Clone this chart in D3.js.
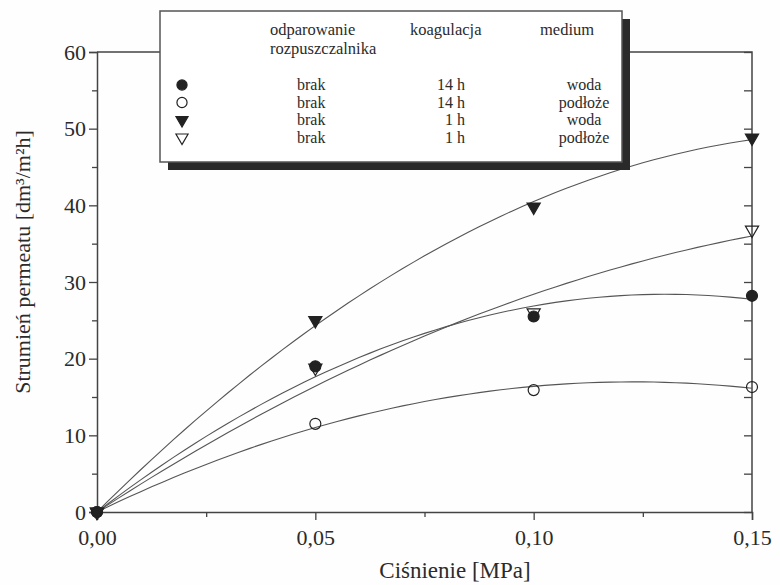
<!DOCTYPE html>
<html>
<head>
<meta charset="utf-8">
<script src="https://cdn.jsdelivr.net/npm/d3@7"></script>
<style>
  body { margin: 0; background: #fff; }
  svg { display: block; font-family: "Liberation Serif", "Times New Roman", serif; }
</style>
</head>
<body>
<svg id="chart" width="780" height="585"></svg>
<script>
// pressure [MPa]
const pressure = [0, 0.05, 0.10, 0.15];

// permeate flux [dm3/m2h]
const woda14 = [0, 19.0, 25.5, 28.2];
const podloze14 = [0, 11.5, 15.9, 16.3];
const woda1 = [0, 25.0, 39.8, 48.8];
const podloze1 = [0, 18.8, 26.0, 36.8];

const xTicks = [0, 0.05, 0.10, 0.15];
const yTicks = [0, 10, 20, 30, 40, 50, 60];

const legendHeader = ["odparowanie", "koagulacja", "medium"];
const legendEvap = ["brak", "brak", "brak", "brak"];
const legendCoag = ["14 h", "14 h", "1 h", "1 h"];
const legendMedium = ["woda", "podłoże", "woda", "podłoże"];

const series = [
    { values: woda14, shape: "circle", filled: true },
    { values: podloze14, shape: "circle", filled: false },
    { values: woda1, shape: "tri", filled: true },
    { values: podloze1, shape: "tri", filled: false }
];

let svg = d3.select("#chart"),
    pLeft = 97, pRight = 752, pTop = 52, pBottom = 512,
    ink = "#2b2b2b";

svg.append("rect").attr("width", 780).attr("height", 585).attr("fill", "#fefefe");

let x = d3.scaleLinear().domain([0, 0.15]).range([pLeft, pRight]);
let y = d3.scaleLinear().domain([0, 60]).range([pBottom, pTop]);

let fmt = d => d3.format(".2f")(d).replace(".", ",");

// frame
svg.append("path")
    .attr("d", `M${pLeft},${pTop}H${pRight}V${pBottom}`)
    .attr("fill", "none").attr("stroke", "#444").attr("stroke-width", 1.5);

// left axis
svg.append("g")
    .attr("transform", `translate(${pLeft},0)`)
    .call(d3.axisLeft(y).tickValues(yTicks).tickSize(8).tickPadding(3).tickFormat(d3.format("d")));
svg.append("g")
    .attr("transform", `translate(${pLeft},0)`)
    .call(d3.axisLeft(y).tickValues(d3.range(5, 60, 10)).tickSize(5).tickFormat(""))
    .call(g => g.select(".domain").remove());

// right axis, ticks inward
svg.append("g")
    .attr("transform", `translate(${pRight},0)`)
    .call(d3.axisLeft(y).tickValues(d3.range(0, 61, 5)).tickSize(8).tickFormat(""))
    .call(g => g.select(".domain").remove());

// bottom axis
svg.append("g")
    .attr("transform", `translate(0,${pBottom})`)
    .call(d3.axisBottom(x).tickValues(xTicks).tickSize(8).tickPadding(9).tickFormat(fmt));
svg.append("g")
    .attr("transform", `translate(0,${pBottom})`)
    .call(d3.axisBottom(x).tickValues([0.025, 0.075, 0.125]).tickSize(5).tickFormat(""))
    .call(g => g.select(".domain").remove());

svg.selectAll(".domain").attr("stroke", "#444").attr("stroke-width", 1.5);
svg.selectAll(".tick line").attr("stroke", "#444").attr("stroke-width", 1.3);
svg.selectAll(".tick text")
    .attr("font-family", "Liberation Serif").attr("font-size", 22).attr("fill", ink);

// axis titles
svg.append("text")
    .attr("x", 455).attr("y", 578)
    .attr("text-anchor", "middle").attr("font-size", 23).attr("fill", ink)
    .text("Ciśnienie [MPa]");
svg.append("text")
    .attr("transform", "translate(30,262) rotate(-90)")
    .attr("text-anchor", "middle").attr("font-size", 22).attr("fill", ink)
    .text("Strumień permeatu [dm³/m²h]");

// least squares fit y = b*x + c*x^2 (through origin)
function fitQuad(xs, ys) {
    let s2 = d3.sum(xs, v => v * v), s3 = d3.sum(xs, v => v ** 3), s4 = d3.sum(xs, v => v ** 4),
        sxy = d3.sum(xs, (v, i) => v * ys[i]), sx2y = d3.sum(xs, (v, i) => v * v * ys[i]);
    let det = s2 * s4 - s3 * s3;
    let b = (sxy * s4 - s3 * sx2y) / det,
        c = (s2 * sx2y - s3 * sxy) / det;
    return t => b * t + c * t * t;
}

let line = d3.line().x(d => x(d[0])).y(d => y(d[1]));
let samples = d3.range(0, 0.15 + 1e-9, 0.0025);

series.forEach(s => {
    let f = fitQuad(pressure, s.values);
    svg.append("path")
        .datum(samples.map(t => [t, f(t)]))
        .attr("d", line)
        .attr("fill", "none").attr("stroke", "#555").attr("stroke-width", 1.1);
});

function symbolPath(shape, k) {
    return shape === "circle"
        ? d3.symbol(d3.symbolCircle, 95 * k)()
        : d3.symbol(d3.symbolTriangle, 75 * k)();
}

function drawMarker(g, s, cx, cy, k = 1) {
    g.append("path")
        .attr("d", symbolPath(s.shape, k))
        .attr("transform", `translate(${cx},${cy})` + (s.shape === "tri" ? " rotate(180)" : ""))
        .attr("fill", s.filled ? "#222" : "none")
        .attr("stroke", "#222").attr("stroke-width", 1.2);
}

let markers = svg.append("g");
series.forEach(s => {
    pressure.forEach((p, i) => drawMarker(markers, s, x(p), y(s.values[i])));
});

// legend
let legend = svg.append("g");
legend.append("rect")
    .attr("x", 168).attr("y", 19).attr("width", 462).attr("height", 151)
    .attr("fill", "#2a2a2a");
legend.append("rect")
    .attr("x", 160).attr("y", 11).attr("width", 462).attr("height", 151)
    .attr("fill", "#fff").attr("stroke", "#555").attr("stroke-width", 1.5);

let headX = [270, 410, 540];
legendHeader.forEach((h, i) => {
    legend.append("text").attr("x", headX[i]).attr("y", 35)
        .attr("font-size", 16.5).attr("fill", ink).text(h);
});
legend.append("text").attr("x", 270).attr("y", 54)
    .attr("font-size", 16.5).attr("fill", ink).text("rozpuszczalnika");

let rowY = [90, 107.5, 125, 142.5];
series.forEach((s, i) => {
    drawMarker(legend, s, 182, rowY[i] - 5, 0.85);
    legend.append("text").attr("x", 297).attr("y", rowY[i])
        .attr("font-size", 16).attr("fill", ink).text(legendEvap[i]);
    legend.append("text").attr("x", 465).attr("y", rowY[i]).attr("text-anchor", "end")
        .attr("font-size", 16).attr("fill", ink).text(legendCoag[i]);
    legend.append("text").attr("x", 584).attr("y", rowY[i]).attr("text-anchor", "middle")
        .attr("font-size", 16).attr("fill", ink).text(legendMedium[i]);
});
</script>
</body>
</html>
